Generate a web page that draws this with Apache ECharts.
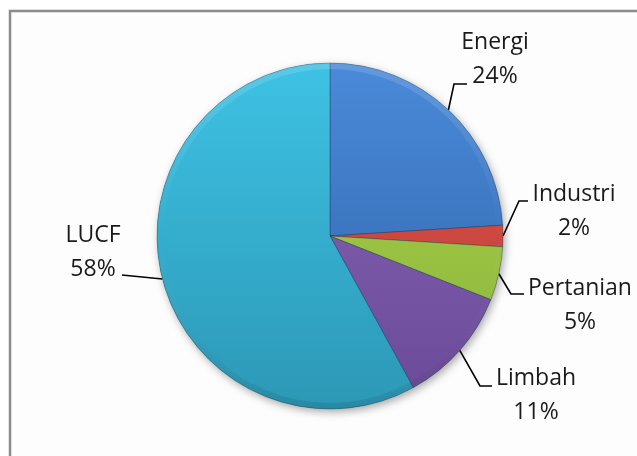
<!DOCTYPE html>
<html>
<head>
<meta charset="utf-8">
<title>Emisi GRK per sektor</title>
<script src="https://cdn.jsdelivr.net/npm/echarts@6/dist/echarts.min.js"></script>
<style>
  html, body { margin: 0; padding: 0; background: #ffffff; }
  #chart { width: 637px; height: 456px; }
</style>
</head>
<body>
<div id="chart"></div>
<script>
// Emission shares by sector (percent), clockwise from 12 o'clock
const sectors = ['Energi', 'Industri', 'Pertanian', 'Limbah', 'LUCF'];
const shares = [24, 2, 5, 11, 58];

// Slice colours: [top, bottom] of a vertical gradient
const sliceColors = [
  ['#4a8ad9', '#2f62a8'],
  ['#e2554d', '#b83a35'],
  ['#aad44c', '#8ab23a'],
  ['#8a66b8', '#6a4a98'],
  ['#3ec2e4', '#2c98b6']
];

// Pie geometry (pixels)
const CX = 330, CY = 236, R = 173;

// Label block centres and leader-line bends (pixels)
const labelPlaces = {
  Energi:    { x: 495, y: 59,  bend: [454, 84],  end: [467, 84] },
  Industri:  { x: 574, y: 211, bend: [519, 201], end: [528, 201] },
  Pertanian: { x: 580, y: 305, bend: [511, 294], end: [524, 294] },
  Limbah:    { x: 536, y: 395, bend: [480, 386], end: [492, 386] },
  LUCF:      { x: 93,  y: 252, bend: [122, 275], end: [122, 275] }
};

function vGrad(top, bottom) {
  return new echarts.graphic.LinearGradient(0, CY - R, 0, CY + R, [
    { offset: 0, color: top },
    { offset: 1, color: bottom }
  ], true);
}

const pieData = sectors.map((name, i) => ({
  name: name,
  value: shares[i],
  itemStyle: { color: vGrad(sliceColors[i][0], sliceColors[i][1]) }
}));

const chart = echarts.init(document.getElementById('chart'), null, { renderer: 'canvas' });

chart.setOption({
  animation: false,
  backgroundColor: '#ffffff',
  graphic: [{
    type: 'rect',
    z: -10,
    silent: true,
    shape: { x: 10, y: 11, width: 700, height: 520 },
    style: { fill: '#fdfdfd', stroke: '#8c8c8c', lineWidth: 2.5 }
  }],
  series: [
    {
      // shadow disc beneath the pie
      type: 'pie',
      silent: true,
      z: 1,
      center: [CX, CY],
      radius: R,
      label: { show: false },
      labelLine: { show: false },
      data: [{ value: 1, itemStyle: {
        color: '#2c98b6',
        shadowBlur: 8, shadowOffsetX: 2, shadowOffsetY: 3,
        shadowColor: 'rgba(0,0,0,0.35)'
      } }]
    },
    {
      type: 'pie',
      z: 2,
      center: [CX, CY],
      radius: R,
      startAngle: 90,
      clockwise: true,
      itemStyle: { borderColor: 'rgba(20,30,50,0.3)', borderWidth: 1 },
      label: {
        show: true,
        position: 'outside',
        formatter: '{b}\n{d}%',
        fontFamily: 'Open Sans',
        fontSize: 23,
        lineHeight: 34,
        color: '#1a1a1a',
        align: 'center',
        overflow: 'none',
        width: 140
      },
      labelLine: {
        show: true,
        lineStyle: { color: '#000000', width: 1.6 }
      },
      labelLayout: function (params) {
        const p = labelPlaces[sectors[params.dataIndex]];
        const start = params.labelLinePoints ? params.labelLinePoints[0] : [CX, CY];
        return {
          x: p.x,
          y: p.y,
          align: 'center',
          verticalAlign: 'middle',
          labelLinePoints: [start, p.bend, p.end]
        };
      },
      data: pieData
    },
    {
      // soft rim bevel: light along the top, darker along the bottom
      type: 'pie',
      silent: true,
      z: 3,
      center: [CX, CY],
      radius: [R - 6, R],
      label: { show: false },
      labelLine: { show: false },
      data: [{ value: 1, itemStyle: {
        color: new echarts.graphic.LinearGradient(0, CY - R, 0, CY + R, [
          { offset: 0, color: 'rgba(255,255,255,0.14)' },
          { offset: 0.5, color: 'rgba(255,255,255,0.0)' },
          { offset: 1, color: 'rgba(0,0,0,0.1)' }
        ], true)
      } }]
    }
  ]
});
</script>
</body>
</html>
